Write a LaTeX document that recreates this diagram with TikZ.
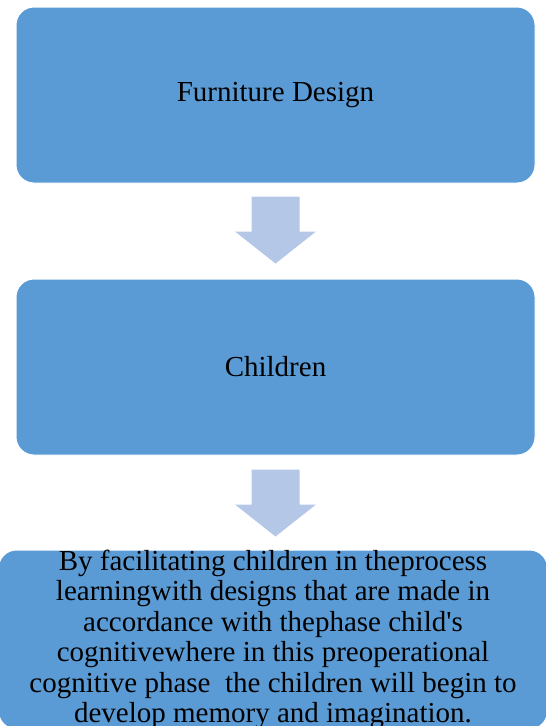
\documentclass[tikz,border=0pt]{standalone}
\usepackage{fontspec}
\setmainfont{Liberation Serif}
\usetikzlibrary{positioning}
\definecolor{boxblue}{RGB}{91,155,213}
\definecolor{arrowblue}{RGB}{180,199,231}

\begin{document}
\begin{tikzpicture}[x=1pt,y=1pt,node distance=95pt,
  stagebox/.style={rectangle,rounded corners=18pt,fill=boxblue,draw=white,line width=1pt,
    minimum width=519pt,minimum height=176pt,align=center,
    font=\fontsize{29}{30.5}\selectfont},
  downarrow/.style={fill=arrowblue}]
\useasboundingbox (0,0) rectangle (546,-726);
% define the stages
  \node[stagebox] (furniture) at (275.5,-95) {Furniture Design};
  \node[stagebox] (children) [below=of furniture] {Children};
  \node[stagebox,minimum width=549pt,minimum height=178pt,inner sep=0pt,xshift=-2.5pt]
    (learning) [below=94pt of children]
    {By facilitating children in theprocess\\
     learningwith designs that are made in\\
     accordance with thephase child\textquotesingle s\\
     cognitivewhere in this preoperational\\
     cognitive phase\ \ the children will begin to\\
     develop memory and imagination.};

% define the arrows between them
  \coordinate[below=13pt of furniture] (arrowa);
  \coordinate[below=14pt of children] (arrowb);
  \foreach \top in {arrowa,arrowb}
    \fill[downarrow] (\top) ++(-24,0) -- ++(48,0) -- ++(0,-35) -- ++(16.5,0)
      -- ++(-40.5,-32) -- ++(-40.5,32) -- ++(16.5,0) -- cycle;
\end{tikzpicture}
\end{document}
